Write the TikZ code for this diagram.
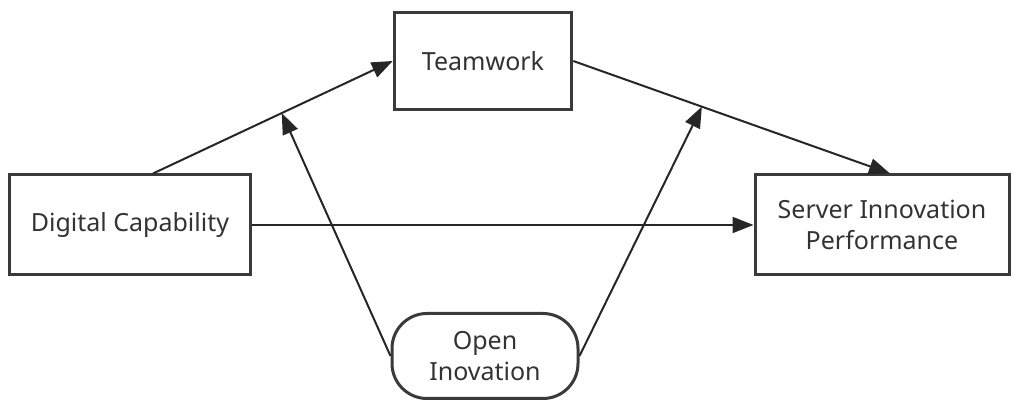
\documentclass[tikz,border=0pt]{standalone}
\usepackage{fontspec}
\setmainfont{Noto Sans}
\usepackage{tikz}
\usetikzlibrary{arrows.meta,positioning}

\definecolor{boxline}{HTML}{3A3A3A}
\definecolor{boxtext}{HTML}{333333}

\tikzset{
  var/.style={draw=boxline, line width=1.2pt, fill=white, text=boxtext,
    align=center, inner sep=0pt, font=\fontsize{10}{12.4}\selectfont},
  link/.style={line width=0.8pt, draw=black!85,
    -{Triangle[length=8.4pt,width=6.4pt]}},
}

\begin{document}
\begin{tikzpicture}[x=0.4pt, y=0.4pt]
  \useasboundingbox (0,0) rectangle (1015,406);

  % Variables
  \node[var, minimum width=71pt, minimum height=39pt] (team) at (483,345) {Teamwork};
  \node[var, minimum width=96pt, minimum height=40pt] (digital) at (130,181) {Digital Capability};
  \node[var, minimum width=101.6pt, minimum height=40pt] (server) at (882,181) {Server Innovation\\Performance};
  \node[var, minimum width=74.4pt, minimum height=34pt, rounded corners=14pt] (open) at (485,50) {Open\\Inovation};

  % Relaciones directas
  \draw[link] ([xshift=9.2pt]digital.north) -- coordinate[pos=0.537] (m1) (team.west);
  \draw[link] (team.east) -- coordinate[pos=0.406] (m2) ([xshift=3.2pt]server.north);
  \draw[link] (digital.east) -- (server.west);

  % Moderacion
  \draw[link] (open.west) -- (m1);
  \draw[link] (open.east) -- (m2);
\end{tikzpicture}
\end{document}
